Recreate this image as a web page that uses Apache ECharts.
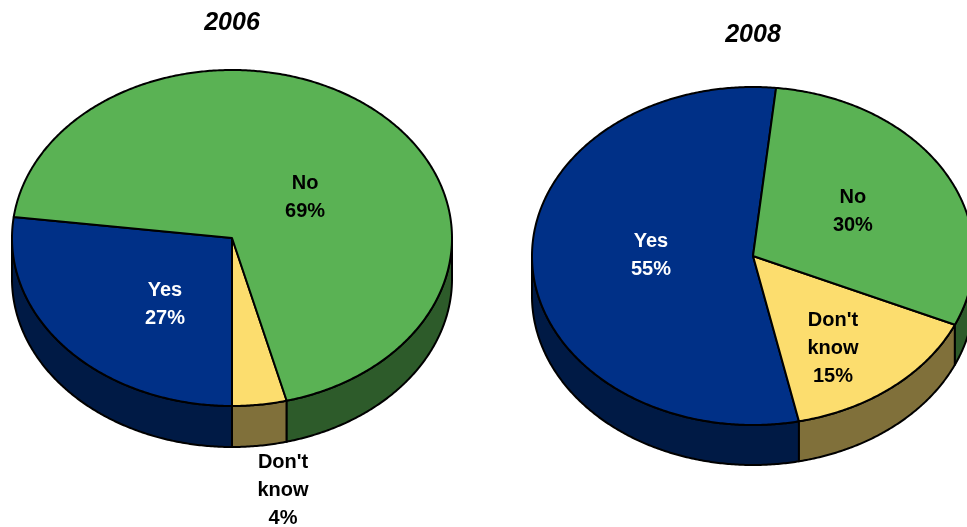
<!DOCTYPE html>
<html>
<head>
<meta charset="utf-8">
<script src="https://cdn.jsdelivr.net/npm/echarts@6/dist/echarts.min.js"></script>
<style>
  html, body { margin: 0; padding: 0; background: #ffffff; }
  #chart { width: 967px; height: 527px; }
</style>
</head>
<body>
<div id="chart"></div>
<script>
// Survey answers, in the order the slices are laid out around each pie
const categories = ['Yes', "Don't know", 'No'];
const years = ['2006', '2008'];
const share2006 = [27, 4, 69];
const share2008 = [55, 15, 30];

// Face colours (top) and darker wall colours (side) per answer
const topColors = ['#003087', '#FCDD6E', '#5AB254'];
const sideColors = ['#001A45', '#80703A', '#2D5B2A'];
const labelColors = ['#FFFFFF', '#000000', '#000000'];

// Geometry of the two tilted pies; labelAt is an offset in units of the radii
const pies = [
  { year: years[0], values: share2006, cx: 232, cy: 238, rx: 220, ry: 168, depth: 41, start: 172.8,
    labelAt: [[-0.305, 0.393], [0.232, 1.5], [0.332, -0.244]], titleY: 23 },
  { year: years[1], values: share2008, cx: 753, cy: 256, rx: 221, ry: 169, depth: 40, start: 84,
    labelAt: [[-0.462, -0.006], [0.362, 0.55], [0.452, -0.266]], titleY: 35 }
];

const FONT = '"Liberation Sans", Arial, sans-serif';

function makeRender(pie) {
  const total = pie.values.reduce((a, b) => a + b, 0);
  const pt = (deg, dy) => {
    const r = deg * Math.PI / 180;
    return [pie.cx + pie.rx * Math.cos(r), pie.cy - pie.ry * Math.sin(r) + dy];
  };
  const arc = (from, to, dy) => {
    const n = Math.max(2, Math.ceil(Math.abs(to - from) / 0.5) + 1);
    const out = [];
    for (let j = 0; j < n; j++) out.push(pt(from + (to - from) * j / (n - 1), dy));
    return out;
  };
  return function (params, api) {
    const i = params.dataIndex;
    const v = api.value(0);
    let before = 0;
    for (let k = 0; k < i; k++) before += pie.values[k];
    const a1 = pie.start + before / total * 360;
    const a2 = a1 + v / total * 360;
    const children = [];
    // visible wall: the part of the slice's rim that lies on the front (lower) half
    for (let k = -1; k <= 2; k++) {
      const lo = Math.max(a1, 180 + 360 * k);
      const hi = Math.min(a2, 360 + 360 * k);
      if (hi > lo) {
        const pts = arc(lo, hi, 0).concat(arc(hi, lo, pie.depth));
        children.push({
          type: 'polygon',
          shape: { points: pts },
          style: { fill: sideColors[i], stroke: '#000', lineWidth: 2, lineJoin: 'round' }
        });
      }
    }
    // top face of the slice
    children.push({
      type: 'polygon',
      shape: { points: [[pie.cx, pie.cy]].concat(arc(a1, a2, 0)) },
      style: { fill: topColors[i], stroke: '#000', lineWidth: 2, lineJoin: 'round' }
    });
    // slice label: category words on separate lines, then the share
    const off = pie.labelAt[i];
    children.push({
      type: 'text',
      z2: 10,
      x: pie.cx + off[0] * pie.rx,
      y: pie.cy + off[1] * pie.ry,
      style: {
        text: categories[i].split(' ').join('\n') + '\n' + v + '%',
        fill: labelColors[i],
        font: 'bold 20px ' + FONT,
        lineHeight: 28,
        align: 'center',
        verticalAlign: 'middle'
      }
    });
    return { type: 'group', children: children };
  };
}

const chart = echarts.init(document.getElementById('chart'), null, { renderer: 'canvas' });
chart.setOption({
  backgroundColor: '#ffffff',
  animation: false,
  graphic: pies.map(p => ({
    type: 'text',
    x: p.cx,
    y: p.titleY,
    style: {
      text: p.year,
      font: 'italic bold 25px ' + FONT,
      fill: '#000',
      align: 'center',
      verticalAlign: 'middle'
    }
  })),
  series: pies.map(p => ({
    type: 'custom',
    name: p.year,
    coordinateSystem: 'none',
    silent: true,
    renderItem: makeRender(p),
    data: p.values
  }))
});
</script>
</body>
</html>
